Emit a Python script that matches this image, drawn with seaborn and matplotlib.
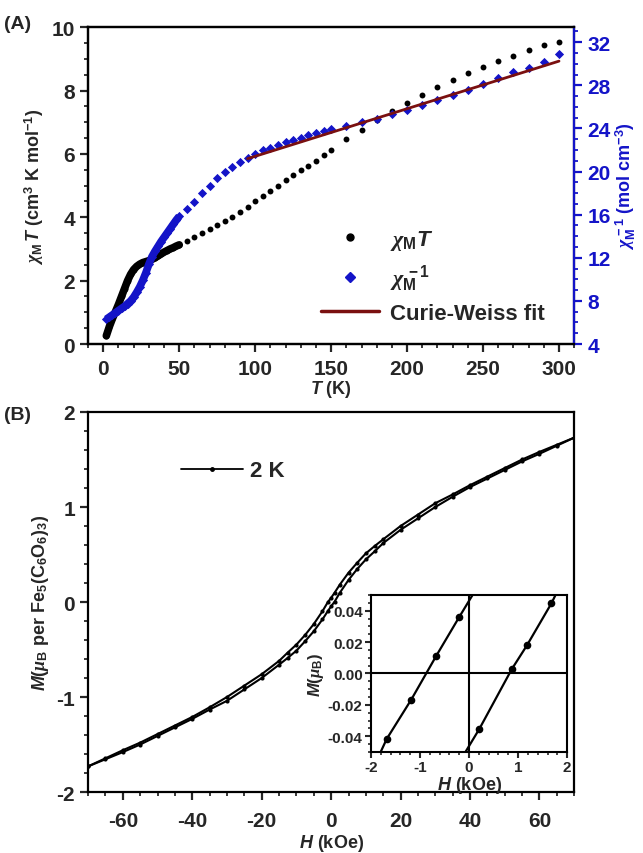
import numpy as np
import pandas as pd
import matplotlib
matplotlib.use('Agg')
import matplotlib.pyplot as plt
import seaborn as sns
from matplotlib.lines import Line2D
from matplotlib.ticker import MultipleLocator, FormatStrFormatter

# (A) chi_M T  vs T  (dense below 50 K, 5 K steps to 145 K, 10 K steps above)
T_chiT = [2, 4, 6, 8, 10, 12, 14, 16, 18, 20, 22, 24, 26, 28, 30, 32, 34, 36, 38, 40, 42, 44, 46, 48, 50,
          55, 60, 65, 70, 75, 80, 85, 90, 95, 100, 105, 110, 115, 120, 125, 130, 135, 140, 145,
          150, 160, 170, 180, 190, 200, 210, 220, 230, 240, 250, 260, 270, 280, 290, 300]
chiT = [0.26, 0.55, 0.80, 1.02, 1.25, 1.50, 1.75, 2.00, 2.20, 2.35, 2.45, 2.52, 2.57, 2.60, 2.63, 2.67,
        2.72, 2.78, 2.84, 2.90, 2.95, 3.00, 3.04, 3.09, 3.13,
        3.25, 3.38, 3.50, 3.62, 3.75, 3.88, 4.02, 4.17, 4.33, 4.50, 4.67, 4.84, 5.00, 5.17, 5.33, 5.48,
        5.63, 5.79, 5.95,
        6.13, 6.47, 6.77, 7.08, 7.35, 7.61, 7.85, 8.10, 8.33, 8.54, 8.73, 8.92, 9.10, 9.27, 9.43, 9.54]
# chi_M^-1 vs T (right axis)
chi_inv = [6.3, 6.5, 6.7, 6.9, 7.1, 7.3, 7.5, 7.75, 8.0, 8.35, 8.8, 9.3, 9.9, 10.6, 11.4, 12.1, 12.6,
           13.05, 13.5, 13.9, 14.3, 14.7, 15.1, 15.5, 15.85,
           16.5, 17.2, 18.0, 18.7, 19.4, 19.95, 20.4, 20.85, 21.25, 21.65, 22.0, 22.2, 22.45, 22.7, 22.95,
           23.15, 23.35, 23.55, 23.75,
           23.95, 24.25, 24.6, 24.9, 25.3, 25.7, 26.15, 26.6, 27.1, 27.6, 28.1, 28.65, 29.2, 29.6, 30.2, 30.9]
n_dense = 25  # points up to 50 K are measured almost continuously
fit_T = [95, 300]
fit_inv = [21.2, 30.25]

# (B) M vs H at 2 K, field sweep down (upper branch) and up (lower branch)
H_down = [70, 65, 60, 55, 50, 45, 40, 35, 30, 25, 20, 15, 12.5, 10, 7.5, 5, 2.5, 1, 0,
          -1, -2.5, -5, -7.5, -10, -12.5, -15, -20, -25, -30, -35, -40, -45, -50, -55, -60, -65, -70]
M_down = [1.73, 1.655, 1.58, 1.50, 1.41, 1.32, 1.23, 1.132, 1.04, 0.92, 0.80, 0.66, 0.588, 0.512,
          0.413, 0.308, 0.183, 0.098, 0.045,
          -0.004, -0.097, -0.232, -0.347, -0.448, -0.532, -0.62, -0.76, -0.88, -1.0, -1.108, -1.21,
          -1.30, -1.39, -1.48, -1.56, -1.645, -1.73]
H_up = [-70, -65, -60, -55, -50, -45, -40, -35, -30, -25, -20, -15, -12.5, -10, -7.5, -5, -2.5, -1, 0,
        1, 2.5, 5, 7.5, 10, 12.5, 15, 20, 25, 30, 35, 40, 45, 50, 55, 60, 65, 70]
M_up = [-1.73, -1.655, -1.58, -1.50, -1.41, -1.32, -1.23, -1.132, -1.04, -0.92, -0.80, -0.66, -0.588,
        -0.512, -0.413, -0.308, -0.183, -0.098, -0.045,
        0.004, 0.097, 0.232, 0.347, 0.448, 0.532, 0.62, 0.76, 0.88, 1.0, 1.108, 1.21,
        1.30, 1.39, 1.48, 1.56, 1.645, 1.73]

# inset, low-field part of the loop
inset_H_down = [1.0, -0.2, -0.67, -1.18, -1.68, -2.5]
inset_M_down = [0.098, 0.036, 0.0112, -0.0167, -0.0417, -0.097]
inset_H_up = [-1.0, 0.21, 0.87, 1.18, 1.68, 2.5]
inset_M_up = [-0.098, -0.0353, 0.0027, 0.0179, 0.0447, 0.097]

sns.set_theme(style='ticks')
plt.rcParams['font.family'] = ['Liberation Sans', 'DejaVu Sans']
plt.rcParams['font.weight'] = 'bold'
plt.rcParams['axes.unicode_minus'] = False
plt.rcParams['mathtext.fontset'] = 'custom'
plt.rcParams['mathtext.rm'] = 'Liberation Sans:bold'
plt.rcParams['mathtext.bf'] = 'Liberation Sans:bold'
plt.rcParams['mathtext.it'] = 'Liberation Serif:italic'
plt.rcParams['mathtext.bfit'] = 'Liberation Sans:bold:italic'

blue = '#1414c8'
maroon = '#7a1010'
tick_fs = 15
CHI = r'\mathit{\chi}_{\rm M}'

fig = plt.figure(figsize=(6.43, 8.54), dpi=100)


def style_ax(ax, fs=tick_fs, lw=1.6):
    for sp in ax.spines.values():
        sp.set_linewidth(lw)
        sp.set_color('black')
    ax.tick_params(which='major', direction='out', length=6, width=lw, labelsize=fs,
                   top=False, right=False)
    ax.tick_params(which='minor', direction='out', length=3, width=lw * 0.8,
                   top=False, right=False)
    for lab in ax.get_xticklabels() + ax.get_yticklabels():
        lab.set_fontweight('bold')


# ---- panel A ----
axA = fig.add_axes([0.137, 0.596, 0.756, 0.371])
axA2 = axA.twinx()

# dense low-T part drawn as a thick band, rest as separate markers
sns.lineplot(x=T_chiT[:n_dense], y=chiT[:n_dense], ax=axA, color='black', lw=5.5,
             solid_capstyle='round', zorder=3)
sns.scatterplot(x=T_chiT, y=chiT, ax=axA, color='black', marker='o', s=18, linewidth=0, zorder=3)
sns.lineplot(x=T_chiT[:n_dense], y=chi_inv[:n_dense], ax=axA2, color=blue, lw=5.5,
             solid_capstyle='butt', zorder=3)
sns.scatterplot(x=T_chiT, y=chi_inv, ax=axA2, color=blue, marker='D', s=22, linewidth=0, zorder=3)
sns.lineplot(x=fit_T, y=fit_inv, ax=axA2, color=maroon, lw=2, zorder=4)

axA.set_xlim(-10, 310)
axA.set_ylim(0, 10)
axA2.set_ylim(4, 33.4)
axA.xaxis.set_major_locator(MultipleLocator(50))
axA.xaxis.set_minor_locator(MultipleLocator(10))
axA.yaxis.set_major_locator(MultipleLocator(2))
axA.yaxis.set_minor_locator(MultipleLocator(0.5))
axA2.yaxis.set_major_locator(MultipleLocator(4))
axA2.yaxis.set_minor_locator(MultipleLocator(1))
style_ax(axA)
style_ax(axA2)
axA2.tick_params(which='both', right=True, left=False, colors=blue, labelcolor=blue)
axA2.spines['right'].set_color(blue)
for lab in axA2.get_yticklabels():
    lab.set_fontweight('bold')
axA.tick_params(axis='x', pad=5)
axA.set_xlabel(r'$\mathbfit{T}$ (K)', fontsize=13, fontweight='bold', labelpad=0)
axA.set_ylabel(r'$' + CHI + r'\,\mathbfit{T}$ (cm$^{3}$ K mol$^{-1}$)', fontsize=13,
               fontweight='bold', labelpad=4)
axA2.set_ylabel(r'$' + CHI + r'^{\,-1}$ (mol cm$^{-3}$)', fontsize=13, fontweight='bold',
                color=blue, labelpad=2)

handles = [Line2D([], [], ls='none', marker='o', color='black', ms=5),
           Line2D([], [], ls='none', marker='D', color=blue, ms=5),
           Line2D([], [], color=maroon, lw=2.5)]
labels = [r'$' + CHI + r'\mathbfit{T}$', r'$' + CHI + r'^{\,-1}$', 'Curie-Weiss fit']
axA2.legend(handles, labels, loc='center', bbox_to_anchor=(0.71, 0.215), frameon=False,
            prop={'size': 16, 'weight': 'bold'}, handlelength=2.6, labelspacing=0.45,
            handletextpad=0.5)

# ---- panel B ----
axB = fig.add_axes([0.137, 0.0714, 0.756, 0.445])
sns.lineplot(x=H_down, y=M_down, ax=axB, sort=False, estimator=None, color='black', lw=1.5,
             marker='o', markersize=3, markeredgewidth=0)
sns.lineplot(x=H_up, y=M_up, ax=axB, sort=False, estimator=None, color='black', lw=1.5,
             marker='o', markersize=3, markeredgewidth=0)
axB.set_xlim(-70, 70)
axB.set_ylim(-2, 2)
axB.xaxis.set_major_locator(MultipleLocator(20))
axB.xaxis.set_minor_locator(MultipleLocator(5))
axB.yaxis.set_major_locator(MultipleLocator(1))
axB.yaxis.set_minor_locator(MultipleLocator(0.2))
style_ax(axB)
axB.tick_params(axis='x', pad=8)
axB.set_xlabel(r'$\mathbfit{H}$ (kOe)', fontsize=13, fontweight='bold', labelpad=1)
axB.set_ylabel(r'$\mathbfit{M}$($\mu_{\rm B}$ per Fe$_5$(C$_6$O$_6$)$_3$)', fontsize=13,
               fontweight='bold', labelpad=4)
axB.legend([Line2D([], [], color='black', lw=1.3, marker='o', ms=2.5)], ['2 K'],
           loc='center left', bbox_to_anchor=(0.15, 0.845), frameon=False,
           prop={'size': 16, 'weight': 'bold'}, handlelength=2.8, handletextpad=0.3)

# ---- inset ----
axI = fig.add_axes([0.577, 0.1183, 0.305, 0.1838])
axI.axhline(0, color='black', lw=1.5)
axI.axvline(0, color='black', lw=1.5)
sns.lineplot(x=inset_H_down, y=inset_M_down, ax=axI, sort=False, estimator=None, color='black',
             lw=1.6, marker='o', markersize=5.5, markeredgewidth=0)
sns.lineplot(x=inset_H_up, y=inset_M_up, ax=axI, sort=False, estimator=None, color='black',
             lw=1.6, marker='o', markersize=5.5, markeredgewidth=0)
axI.set_xlim(-2, 2)
axI.set_ylim(-0.05, 0.05)
axI.xaxis.set_major_locator(MultipleLocator(1))
axI.xaxis.set_minor_locator(MultipleLocator(0.2))
axI.yaxis.set_major_locator(MultipleLocator(0.02))
axI.yaxis.set_minor_locator(MultipleLocator(0.005))
axI.yaxis.set_major_formatter(FormatStrFormatter('%.2f'))
style_ax(axI, fs=11, lw=1.5)
axI.tick_params(which='major', length=4, pad=2)
axI.tick_params(which='minor', length=2)
axI.set_xlabel(r'$\mathbfit{H}$ (kOe)', fontsize=13, fontweight='bold', labelpad=0)
axI.set_ylabel(r'$\mathbfit{M}$($\mu_{\rm B}$)', fontsize=12, fontweight='bold', labelpad=1)

fig.text(0.006, 0.971, '(A)', fontsize=14, fontweight='bold', va='center')
fig.text(0.006, 0.514, '(B)', fontsize=14, fontweight='bold', va='center')

fig.savefig('out.png', dpi=100)
